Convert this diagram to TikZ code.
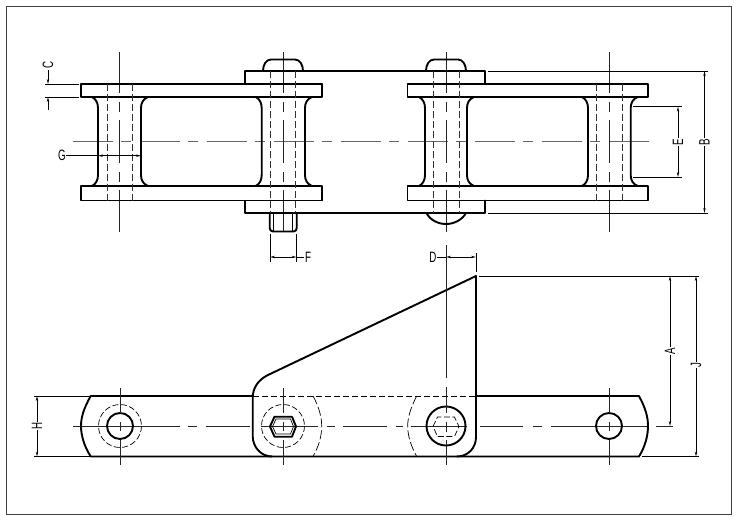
\documentclass[tikz,border=0pt]{standalone}
\usepackage{graphicx}
\usepackage{fontspec}
\setmainfont{Liberation Sans}
\usetikzlibrary{arrows.meta}
\tikzset{
  x=1pt,y=-1pt,
  thickl/.style={line width=1.9pt,line cap=round,line join=round},
  thinl/.style={line width=0.7pt},
  framel/.style={line width=0.9pt,draw=black!75},
  hid/.style={line width=0.8pt,draw=black!80,dash pattern=on 7pt off 3pt},
  centerl/.style={line width=1pt,draw=black!60,dash pattern=on 40pt off 8.5pt on 9.5pt off 9pt},
  axis/.style={line width=.8pt,draw=black!85},
  dim/.style={line width=0.7pt,{Stealth[length=5pt,width=2.4pt]}-{Stealth[length=5pt,width=2.4pt]}},
  lead/.style={line width=0.7pt},
  toarrow/.style={line width=0.7pt,-{Stealth[length=5pt,width=2.4pt]}},
  fromarrow/.style={line width=0.7pt,{Stealth[length=5pt,width=2.4pt]}-},
  lab/.style={inner sep=0.5pt,font=\fontsize{15}{15}\selectfont},
  rlab/.style={lab,rotate=90},
}
\newcommand{\nar}[1]{\scalebox{.65}[1]{#1}}
\begin{document}
\begin{tikzpicture}
\useasboundingbox (0,0) rectangle (737,520);
\fill[white] (0,0) rectangle (737,520);
\draw[framel] (6,6) rectangle (731,514);
% ---------- top view: centre lines
\draw[centerl] (72.5,141.7) -- (657,141.7);
\foreach \x in {119.5,283,446,609}{
  \draw[axis] (\x,52) -- (\x,93) (\x,102) -- (\x,112) (\x,120) -- (\x,163) (\x,172) -- (\x,182) (\x,190) -- (\x,232);
}
% rollers
\foreach \a/\b in {98/141,261.7/305,425/467,588/630.7}{
  \draw[thickl] (\a-6,97) .. controls (\a-2,99) and (\a,103) .. (\a,108) -- (\a,175) .. controls (\a,180) and (\a-2,184) .. (\a-6,186);
  \draw[thickl] (\b+7,97) .. controls (\b+2,99) and (\b,103) .. (\b,108) -- (\b,175) .. controls (\b,180) and (\b+2,184) .. (\b+7,186);
}
% pin heads
\foreach \x in {283,446}{
  \draw[thickl] (\x-20,71) .. controls (\x-20,65) and (\x-17,59.5) .. (\x-12,59.5) -- (\x+12,59.5) .. controls (\x+17,59.5) and (\x+20,65) .. (\x+20,71);
}
\draw[thickl] (426.5,213) .. controls (430,220) and (438,224) .. (446,224) .. controls (454,224) and (462,220) .. (466,213);
\draw[thickl] (269.7,213) -- (269.7,228) .. controls (269.7,230) and (271,231.5) .. (273,231.5) -- (293.5,231.5) .. controls (295.5,231.5) and (296.7,230) .. (296.7,228) -- (296.7,213);
\draw[thinl] (273.5,213) -- (273.5,231) (292.8,213) -- (292.8,231);
% plates
\foreach \x/\w in {81/241,407.5/240.5}{
  \draw[thickl] (\x,84) rectangle (\x+\w,97);
  \draw[thickl] (\x,186) rectangle (\x+\w,200.5);
}
\draw[thickl] (322,84) -- (245,84) -- (245,71) -- (485,71) -- (485,84);
\draw[thickl] (322,200.5) -- (245,200.5) -- (245,213) -- (485,213) -- (485,200.5);
% hidden pin lines
\draw[hid] (107,84) -- (107,200.5) (132.7,84) -- (132.7,200.5);
\draw[hid] (596.7,84) -- (596.7,200.5) (622.3,84) -- (622.3,200.5);
\draw[hid] (270,71) -- (270,213) (295.8,71) -- (295.8,213);
\draw[hid] (433.3,71) -- (433.3,213) (459,71) -- (459,213);
% ---------- side view
\foreach \p/\q in {73/180,188/197,206/250,261/318,327/335,343/387,396/403,411/467,480/523,533/542,551/647,656/673}{
  \draw[axis] (\p,426) -- (\q,426);
}
\draw[thickl] (253,396) -- (90.7,396) .. controls (84,408) and (81,417) .. (81,426) .. controls (81,435) and (84,446) .. (90.7,456.5) -- (639,456.5) .. controls (645.5,446) and (648,435) .. (648,426) .. controls (648,417) and (645.5,408) .. (639,396) -- (476,396);
\draw[thickl] (476,276) -- (268,375) .. controls (258,380) and (252.7,388) .. (252.7,398) -- (252.7,436) .. controls (252.7,447) and (261,456.5) .. (272,456.5);
\draw[thickl] (476,276) -- (476,437) .. controls (476,448) and (468,456.5) .. (457,456.5);
\draw[line width=.8pt,dash pattern=on 6pt off 3pt] (253,396) -- (476,396);
\draw[line width=.7pt,dash pattern=on 9pt off 3pt] (313,396) .. controls (319,407) and (321.7,417) .. (321.7,426) .. controls (321.7,436) and (319,446) .. (313,456.5);
\draw[line width=.7pt,dash pattern=on 9pt off 3pt] (416.7,396) .. controls (411,407) and (407.7,417) .. (407.7,426) .. controls (407.7,436) and (411,446) .. (416.7,456.5);
% holes
\draw[thickl] (120,426) circle (13);
\draw[thickl] (609,426) circle (13);
\draw[thickl] (446,426) circle (19.5);
\draw[line width=.7pt,dash pattern=on 6pt off 2.5pt] (120,426) circle (21.5);
\draw[line width=.7pt,dash pattern=on 6pt off 2.5pt] (283,426) circle (21.5);
\draw[thickl] (270,426.5) -- (274.5,416.7) -- (292,416.7) -- (296,426.5) -- (292,436.7) -- (274.5,436.7) -- cycle;
\draw[thinl] (272.5,426.5) -- (276,419) -- (290.5,419) -- (293.5,426.5) -- (290.5,434) -- (276,434) -- cycle;
\draw[line width=.7pt,dash pattern=on 6pt off 2.5pt] (433,426.5) -- (437.5,417) -- (454.5,417) -- (459,426.5) -- (454.5,436.5) -- (437.5,436.5) -- cycle;
% vertical centre lines side view
\foreach \x in {120,283,609}{
  \draw[axis] (\x,388) -- (\x,413) (\x,422) -- (\x,431) (\x,440) -- (\x,465);
}
\draw[axis] (446,245) -- (446,378) (446,387) -- (446,413) (446,422) -- (446,432) (446,440) -- (446,465);
% ---------- dimensions
% C
\node[rlab] (labC) at (48,64.5) {\nar{C}};
\coordinate (cA) at (48,70); \coordinate (cB) at (48,84); \coordinate (cC) at (48,97); \coordinate (cD) at (48,110);
\draw[lead] (45,84) -- (79,84) (45,97) -- (79,97);
\draw[toarrow] (cA) -- (cB);
\draw[toarrow] (cD) -- (cC);
% G
\node[lab] (labG) at (62,155.7) {\nar{G}};
\coordinate (g1) at (98,155.7); \coordinate (g2) at (141,155.7);
\draw[lead] (labG) -- (g1);
\draw[dim] (g1) -- (g2);
% F
\node[lab] (labF) at (308,257) {\nar{F}};
\coordinate (f1) at (270,257); \coordinate (f2) at (296.5,257);
\draw[lead] (270,234) -- (270,262) (296.5,234) -- (296.5,262);
\draw[dim] (f1) -- (f2);
\draw[lead] (f2) -- (labF);
% D
\node[lab] (labD) at (433,257) {\nar{D}};
\coordinate (d1) at (446,257); \coordinate (d2) at (476,257);
\draw[lead] (476,253) -- (476,272);
\draw[lead] (labD) -- (d1);
\draw[dim] (d1) -- (d2);
% E
\node[rlab] (labE) at (678,142) {\nar{E}};
\coordinate (e1) at (678,106.7); \coordinate (e2) at (678,177);
\draw[lead] (633,106.7) -- (682,106.7) (633,177) -- (682,177);
\draw[fromarrow] (e1) -- (labE);
\draw[toarrow] (labE) -- (e2);
% B
\node[rlab] (labB) at (704.5,142) {\nar{B}};
\coordinate (b1) at (704.5,71); \coordinate (b2) at (704.5,213);
\draw[lead] (488,71) -- (708,71) (488,213) -- (708,213);
\draw[fromarrow] (b1) -- (labB);
\draw[toarrow] (labB) -- (b2);
% A
\node[rlab] (labA) at (670,351) {\nar{A}};
\coordinate (a1) at (670,276); \coordinate (a2) at (670,426);
\draw[lead] (479,276) -- (699,276);
\draw[fromarrow] (a1) -- (labA);
\draw[toarrow] (labA) -- (a2);
% J
\node[rlab] (labJ) at (696,365) {\nar{J}};
\coordinate (j1) at (696,276); \coordinate (j2) at (696,456.5);
\draw[lead] (642,456.5) -- (699,456.5);
\draw[fromarrow] (j1) -- (labJ);
\draw[toarrow] (labJ) -- (j2);
% H
\node[rlab] (labH) at (37,426) {\nar{H}};
\coordinate (h1) at (37,396); \coordinate (h2) at (37,456.5);
\draw[lead] (34,396) -- (90,396) (34,456.5) -- (90,456.5);
\draw[fromarrow] (h1) -- (labH);
\draw[toarrow] (labH) -- (h2);
\end{tikzpicture}
\end{document}
